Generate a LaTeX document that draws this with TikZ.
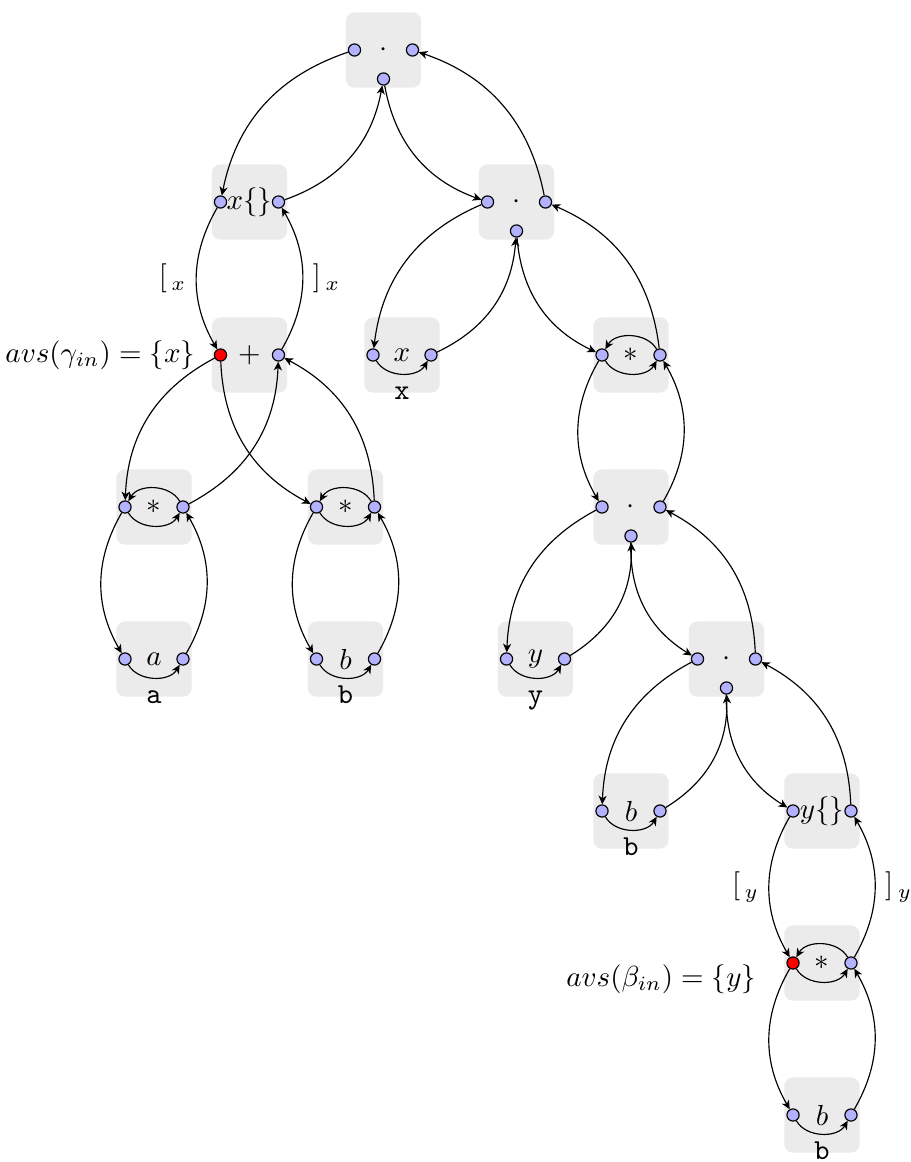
\documentclass[tikz,border=0pt]{standalone}
\usetikzlibrary{positioning,arrows.meta}
\begin{document}
\begin{tikzpicture}[
  x=0.345pt, y=-0.345pt,
  box/.style={fill=black!8, rounded corners=3pt, minimum size=26pt, inner sep=0pt},
  port/.style={circle, draw, fill=blue!30, minimum size=4.2pt, inner sep=0pt},
  active/.style={port, fill=red},
  wire/.style={-{Stealth[length=3pt,width=2.8pt,inset=0.9pt]}, bend right=30},
  hop/.style={-{Stealth[length=3pt,width=2.8pt,inset=0.9pt]}, bend right=60},
  tag/.style={anchor=base, yshift=-2pt}
]
\useasboundingbox (0,0) rectangle (910,1162);
% boxes
\node[box] (top) at (383.5,50) {$\cdot$};
\node[box] (xs) at (249.5,202) {$x\{\}$};
\node[box] (seq1) at (516.5,202) {$\cdot$};
\node[box] (plus) at (249.5,355) {$+$};
\node[box] (leafx) at (402,355) {$x$};
\node[box] (star3) at (631,355) {$*$};
\node[box] (stara) at (154,507) {$*$};
\node[box] (starb) at (345.5,507) {$*$};
\node[box] (seq2) at (631,507) {$\cdot$};
\node[box] (leafa) at (154,659) {$a$};
\node[box] (leafb) at (345.5,659) {$b$};
\node[box] (leafy) at (535.5,659) {$y$};
\node[box] (seq3) at (726.5,659) {$\cdot$};
\node[box] (leafb2) at (631,811) {$b$};
\node[box] (ys) at (822,811) {$y\{\}$};
\node[box] (star4) at (822,963) {$*$};
\node[box] (leafb3) at (822,1115) {$b$};
% names under the leaves
\node[tag] (tag-a) at (leafa.south) {\texttt{a}};
\node[tag] (tag-b) at (leafb.south) {\texttt{b}};
\node[tag] (tag-x) at (leafx.south) {\texttt{x}};
\node[tag] (tag-y) at (leafy.south) {\texttt{y}};
\node[tag] (tag-b2) at (leafb2.south) {\texttt{b}};
\node[tag] (tag-b3) at (leafb3.south) {\texttt{b}};
% ports
\node[port] (top-l) at ([xshift=-10pt]top.center) {};
\node[port] (top-r) at ([xshift=10pt]top.center) {};
\node[port] (top-b) at ([yshift=-10pt]top.center) {};
\node[port] (xs-l) at ([xshift=-10pt]xs.center) {};
\node[port] (xs-r) at ([xshift=10pt]xs.center) {};
\node[port] (seq1-l) at ([xshift=-10pt]seq1.center) {};
\node[port] (seq1-r) at ([xshift=10pt]seq1.center) {};
\node[port] (seq1-b) at ([yshift=-10pt]seq1.center) {};
\node[active] (plus-l) at ([xshift=-10pt]plus.center) {};
\node[port] (plus-r) at ([xshift=10pt]plus.center) {};
\node[port] (leafx-l) at ([xshift=-10pt]leafx.center) {};
\node[port] (leafx-r) at ([xshift=10pt]leafx.center) {};
\node[port] (star3-l) at ([xshift=-10pt]star3.center) {};
\node[port] (star3-r) at ([xshift=10pt]star3.center) {};
\node[port] (stara-l) at ([xshift=-10pt]stara.center) {};
\node[port] (stara-r) at ([xshift=10pt]stara.center) {};
\node[port] (starb-l) at ([xshift=-10pt]starb.center) {};
\node[port] (starb-r) at ([xshift=10pt]starb.center) {};
\node[port] (seq2-l) at ([xshift=-10pt]seq2.center) {};
\node[port] (seq2-r) at ([xshift=10pt]seq2.center) {};
\node[port] (seq2-b) at ([yshift=-10pt]seq2.center) {};
\node[port] (leafa-l) at ([xshift=-10pt]leafa.center) {};
\node[port] (leafa-r) at ([xshift=10pt]leafa.center) {};
\node[port] (leafb-l) at ([xshift=-10pt]leafb.center) {};
\node[port] (leafb-r) at ([xshift=10pt]leafb.center) {};
\node[port] (leafy-l) at ([xshift=-10pt]leafy.center) {};
\node[port] (leafy-r) at ([xshift=10pt]leafy.center) {};
\node[port] (seq3-l) at ([xshift=-10pt]seq3.center) {};
\node[port] (seq3-r) at ([xshift=10pt]seq3.center) {};
\node[port] (seq3-b) at ([yshift=-10pt]seq3.center) {};
\node[port] (leafb2-l) at ([xshift=-10pt]leafb2.center) {};
\node[port] (leafb2-r) at ([xshift=10pt]leafb2.center) {};
\node[port] (ys-l) at ([xshift=-10pt]ys.center) {};
\node[port] (ys-r) at ([xshift=10pt]ys.center) {};
\node[active] (star4-l) at ([xshift=-10pt]star4.center) {};
\node[port] (star4-r) at ([xshift=10pt]star4.center) {};
\node[port] (leafb3-l) at ([xshift=-10pt]leafb3.center) {};
\node[port] (leafb3-r) at ([xshift=10pt]leafb3.center) {};
% side notes
\node[left=2pt of plus] (avs-x) {$avs(\gamma_{in}) = \{x\}$};
\node[left=6pt of star4, yshift=-5.5pt] (avs-y) {$avs(\beta_{in}) = \{y\}$};
% flow between boxes
\draw[wire] (top-l) to (xs-l);
\draw[wire] (xs-r) to (top-b);
\draw[wire] (top-b) to (seq1-l);
\draw[wire] (seq1-r) to (top-r);
\draw[wire] (xs-l) to node[left] (open-x) {$[\,_x$} (plus-l);
\draw[wire] (plus-r) to node[right] (close-x) {$]\,_x$} (xs-r);
\draw[wire] (plus-l) to (stara-l);
\draw[wire] (stara-r) to (plus-r);
\draw[wire] (plus-l) to (starb-l);
\draw[wire] (starb-r) to (plus-r);
\draw[wire] (stara-l) to (leafa-l);
\draw[wire] (leafa-r) to (stara-r);
\draw[wire] (starb-l) to (leafb-l);
\draw[wire] (leafb-r) to (starb-r);
\draw[wire] (seq1-l) to (leafx-l);
\draw[wire] (leafx-r) to (seq1-b);
\draw[wire] (seq1-b) to (star3-l);
\draw[wire] (star3-r) to (seq1-r);
\draw[wire] (star3-l) to (seq2-l);
\draw[wire] (seq2-r) to (star3-r);
\draw[wire] (seq2-l) to (leafy-l);
\draw[wire] (leafy-r) to (seq2-b);
\draw[wire] (seq2-b) to (seq3-l);
\draw[wire] (seq3-r) to (seq2-r);
\draw[wire] (seq3-l) to (leafb2-l);
\draw[wire] (leafb2-r) to (seq3-b);
\draw[wire] (seq3-b) to (ys-l);
\draw[wire] (ys-r) to (seq3-r);
\draw[wire] (ys-l) to node[left] (open-y) {$[\,_y$} (star4-l);
\draw[wire] (star4-r) to node[right] (close-y) {$]\,_y$} (ys-r);
\draw[wire] (star4-l) to (leafb3-l);
\draw[wire] (leafb3-r) to (star4-r);
% flow inside boxes
\draw[hop] (stara-l) to (stara-r);
\draw[hop] (stara-r) to (stara-l);
\draw[hop] (starb-l) to (starb-r);
\draw[hop] (starb-r) to (starb-l);
\draw[hop] (star3-l) to (star3-r);
\draw[hop] (star3-r) to (star3-l);
\draw[hop] (star4-l) to (star4-r);
\draw[hop] (star4-r) to (star4-l);
\draw[hop] (leafa-l) to (leafa-r);
\draw[hop] (leafb-l) to (leafb-r);
\draw[hop] (leafx-l) to (leafx-r);
\draw[hop] (leafy-l) to (leafy-r);
\draw[hop] (leafb2-l) to (leafb2-r);
\draw[hop] (leafb3-l) to (leafb3-r);
\end{tikzpicture}
\end{document}
